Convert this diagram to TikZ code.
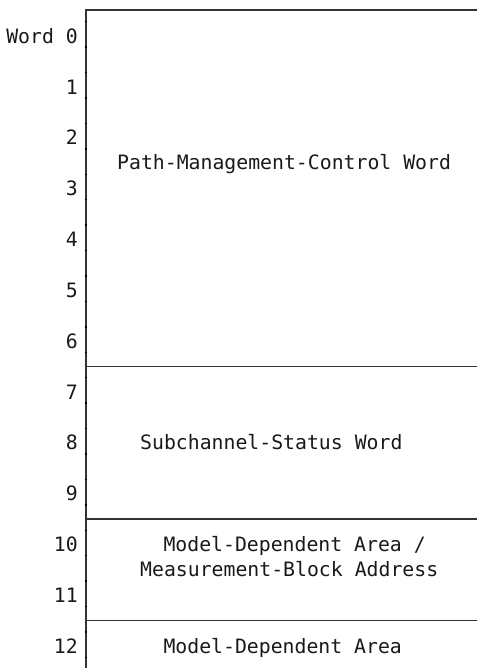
\documentclass[tikz,border=0pt]{standalone}
\usepackage{fontspec}
\setmonofont{DejaVu Sans Mono}
\begin{document}
\begin{tikzpicture}[x=1pt,y=-1pt,
  lbl/.style={font=\ttfamily\fontsize{19.8}{24.5}\selectfont, inner sep=0pt, text=black!90},
  num/.style={lbl, anchor=base east},
  ttl/.style={lbl, anchor=base west, align=left},
  rule/.style={line width=1.2pt, draw=black!80},
  tick/.style={line width=1.4pt, draw=black}]
\useasboundingbox (0,0) rectangle (477,668);
% frame
\coordinate (tl) at (86,10);
\coordinate (tr) at (477,10);
\coordinate (bl) at (86,668);
\draw[rule] (bl) -- (tl) -- (tr);
\foreach \n in {0,...,25} {
  \draw[tick] (84.6,{21.7+25.43*\n}) -- (87.4,{21.7+25.43*\n});
}
% dividers
\foreach \y/\nm in {366.5/d1,519/d2,620.5/d3} {
  \coordinate (\nm l) at (86,\y);
  \coordinate (\nm r) at (477,\y);
  \draw[rule] (\nm l) -- (\nm r);
}
% word numbers
\node[num] (w0) at (78,43.3) {Word 0};
\foreach \k in {1,...,12} {
  \node[num] (w\k) at (78,{43.3+50.83*\k}) {\k};
}
% field titles
\node[ttl] (pmcw) at (117,169.5) {Path-Management-Control Word};
\node[ttl] (scsw) at (140,449.5) {Subchannel-Status Word};
\node[ttl] (mda1) at (163.3,551.5) {Model-Dependent Area /};
\node[ttl] (mbad) at (140,576) {Measurement-Block Address};
\node[ttl] (mda2) at (163.3,653) {Model-Dependent Area};
\end{tikzpicture}
\end{document}
